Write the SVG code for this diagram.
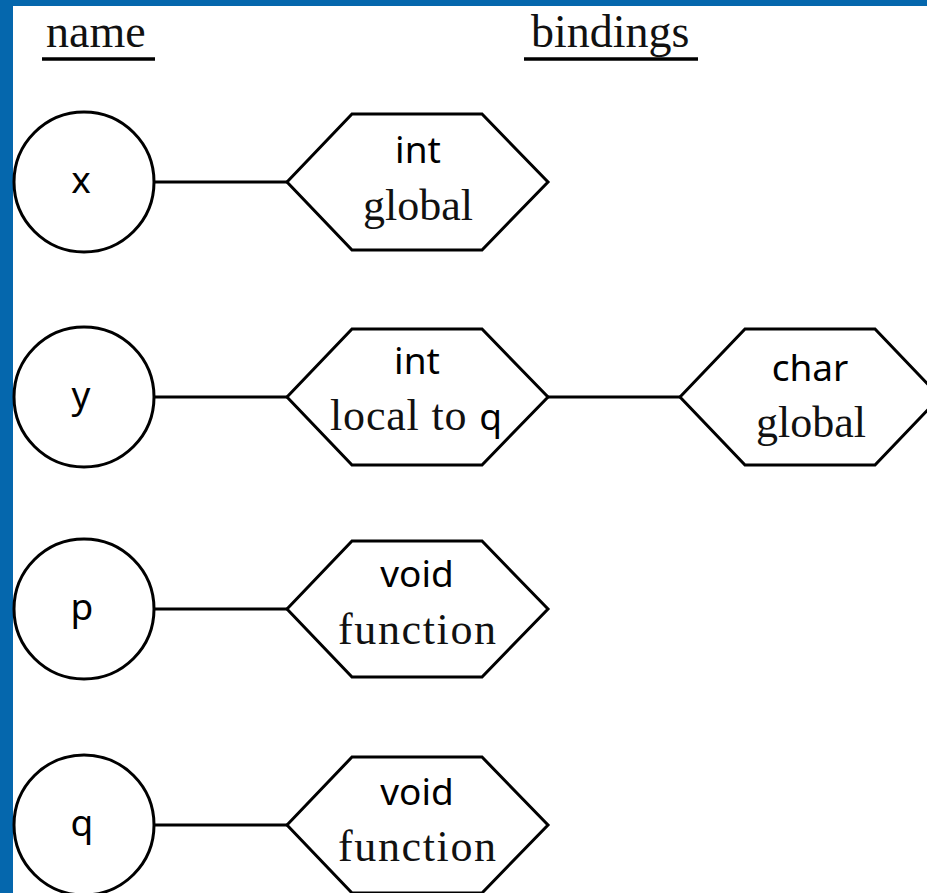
<svg xmlns="http://www.w3.org/2000/svg" width="927" height="893" viewBox="0 0 927 893">
<style>
.frame{fill:#0567ad}
.shape{fill:#fff;stroke:#000;stroke-width:3}
.edge{stroke:#000;stroke-width:3;fill:none}
.rule{stroke:#000;stroke-width:3.5}
.hdr{font-family:"Liberation Serif",serif;font-size:46px;fill:#111}
.sans{font-family:"Noto Sans","Open Sans",sans-serif;font-size:37px;fill:#000;text-anchor:middle}
.serif{font-family:"Liberation Serif",serif;font-size:44px;fill:#111;text-anchor:middle}
</style>
<rect x="0" y="0" width="927" height="893" fill="#fff"/>
<rect class="frame" x="0" y="0" width="927" height="6"/>
<rect class="frame" x="0" y="0" width="13" height="893"/>
<g id="headers">
<text class="hdr" x="46" y="47">name</text>
<line class="rule" x1="42" y1="59" x2="155" y2="59"/>
<text class="hdr" x="531" y="47">bindings</text>
<line class="rule" x1="524" y1="59" x2="698" y2="59"/>
</g>
<g id="connectors">
<line class="edge" x1="154" y1="182" x2="287" y2="182"/>
<line class="edge" x1="154" y1="397" x2="287" y2="397"/>
<line class="edge" x1="548" y1="397" x2="680" y2="397"/>
<line class="edge" x1="154" y1="609" x2="287" y2="609"/>
<line class="edge" x1="154" y1="825" x2="287" y2="825"/>
</g>
<g id="name-x">
<circle class="shape" cx="84" cy="182" r="70"/>
<text class="sans" x="81" y="193">x</text>
</g>
<g id="name-y">
<circle class="shape" cx="84" cy="397" r="70"/>
<text class="sans" x="81" y="408">y</text>
</g>
<g id="name-p">
<circle class="shape" cx="84" cy="609" r="70"/>
<text class="sans" x="82" y="620">p</text>
</g>
<g id="name-q">
<circle class="shape" cx="84" cy="825" r="70"/>
<text class="sans" x="82" y="836">q</text>
</g>
<g id="bind-x">
<polygon class="shape" points="287,182 352,114 482,114 548,182 482,250 352,250"/>
<text class="sans" x="418" y="163">int</text>
<text class="serif" x="418" y="220">global</text>
</g>
<g id="bind-y1">
<polygon class="shape" points="287,397 352,329 482,329 548,397 482,465 352,465"/>
<text class="sans" x="417" y="374">int</text>
<text class="serif" x="416" y="430" textLength="172" lengthAdjust="spacing">local to <tspan style="font-family:'Noto Sans','Open Sans',sans-serif;font-size:37px;fill:#000">q</tspan></text>
</g>
<g id="bind-y2">
<polygon class="shape" points="680,397 745,329 875,329 940,397 875,465 745,465"/>
<text class="sans" x="810" y="381">char</text>
<text class="serif" x="811" y="437">global</text>
</g>
<g id="bind-p">
<polygon class="shape" points="287,609 352,541 482,541 548,609 482,677 352,677"/>
<text class="sans" x="417" y="587">void</text>
<text class="serif" x="417" y="644" textLength="158" lengthAdjust="spacing">function</text>
</g>
<g id="bind-q">
<polygon class="shape" points="287,825 352,757 482,757 548,825 482,893 352,893"/>
<text class="sans" x="417" y="805">void</text>
<text class="serif" x="417" y="861" textLength="158" lengthAdjust="spacing">function</text>
</g>
</svg>
